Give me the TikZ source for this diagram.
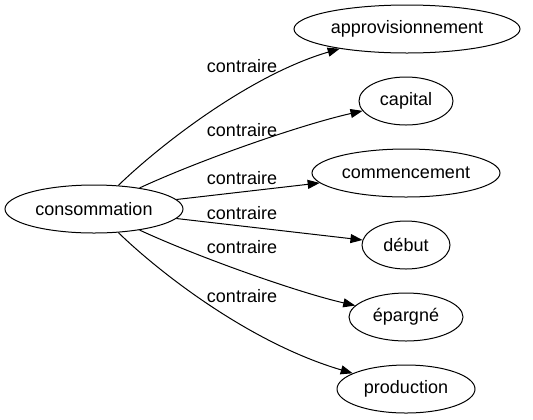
\documentclass[tikz,border=0pt]{standalone}
\usepackage{fontspec}
\setmainfont{Liberation Sans}
\usetikzlibrary{arrows.meta,shapes.geometric}
\begin{document}
\begin{tikzpicture}[x=1bp,y=-1bp,
  every node/.style={font=\fontsize{18bp}{20bp}\selectfont},
  word/.style={draw,ellipse,line width=1bp,inner sep=0pt,minimum height=48bp},
  rel/.style={draw,line width=1bp,-{Triangle[length=12bp,width=9bp]}},
  lab/.style={inner sep=0pt}]
\useasboundingbox (0,0) rectangle (533,419);
\node[word,minimum width=178bp] (cons) at (94,209) {consommation};
\node[word,minimum width=226bp] (appro) at (407,29) {approvisionnement};
\node[word,minimum width=94bp] (capital) at (406,101) {capital};
\node[word,minimum width=188bp] (comm) at (406,173) {commencement};
\node[word,minimum width=88bp] (debut) at (406,245) {début};
\node[word,minimum width=114bp] (eparg) at (406,317) {épargné};
\node[word,minimum width=138bp] (prod) at (406,389) {production};
\draw[rel] (cons) .. controls (160,145) and (250,75) .. (appro);
\draw[rel] (cons) .. controls (200,160) and (300,125) .. (capital);
\draw[rel] (cons) -- (comm);
\draw[rel] (cons) -- (debut);
\draw[rel] (cons) .. controls (200,258) and (300,293) .. (eparg);
\draw[rel] (cons) .. controls (160,273) and (250,343) .. (prod);
\node[lab] (l1) at (242,66) {contraire};
\node[lab] (l2) at (242,130) {contraire};
\node[lab] (l3) at (242,178) {contraire};
\node[lab] (l4) at (242,213) {contraire};
\node[lab] (l5) at (242,247) {contraire};
\node[lab] (l6) at (242,296) {contraire};
\end{tikzpicture}
\end{document}
